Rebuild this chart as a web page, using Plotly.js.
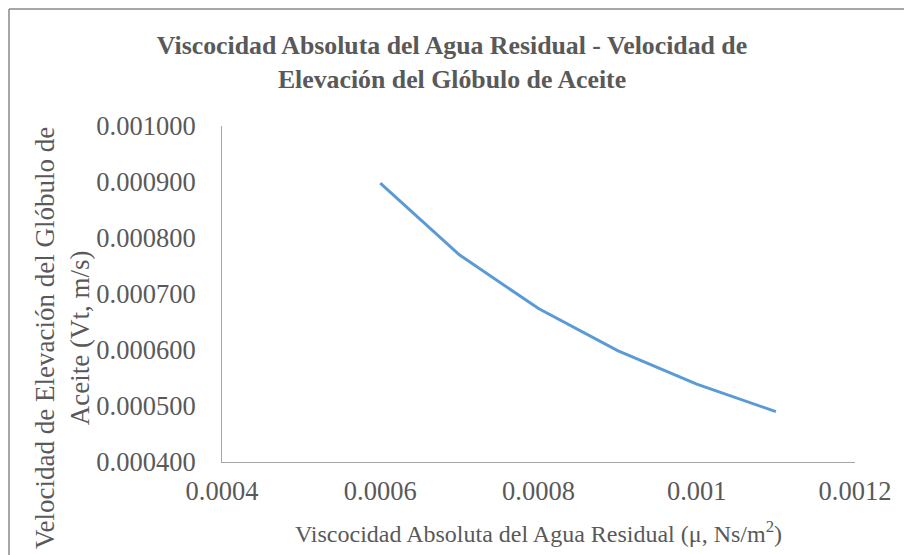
<!DOCTYPE html>
<html>
<head>
<meta charset="utf-8">
<script src="https://cdn.plot.ly/plotly-3.0.1.min.js"></script>
<style>html,body{margin:0;padding:0;background:#fff;}#chart{width:904px;height:555px;}</style>
</head>
<body>
<div id="chart"></div>
<script>
const viscosity = [0.0006, 0.0007, 0.0008, 0.0009, 0.0010, 0.0011];
const velocity = [0.000898, 0.000770, 0.000674, 0.000599, 0.000539, 0.000490];
const xTickVals = [0.0004, 0.0006, 0.0008, 0.0010, 0.0012];
const xTickText = ["0.0004", "0.0006", "0.0008", "0.001", "0.0012"];
const yTickVals = [0.0004, 0.0005, 0.0006, 0.0007, 0.0008, 0.0009, 0.0010];
const yTickText = ["0.000400", "0.000500", "0.000600", "0.000700", "0.000800", "0.000900", "0.001000"];
const yTitleText = "Velocidad de Elevación del Glóbulo de<br>Aceite (Vt, m/s)";

const font = "'Liberation Serif', 'Times New Roman', serif";
const grey = "#595959";

const trace = {
  x: viscosity, y: velocity, type: "scatter", mode: "lines",
  line: {color: "#5B9BD5", width: 3}, hoverinfo: "x+y"
};

const W = 633, H = 336, L = 222, T = 126;
const layout = {
  width: 904, height: 555,
  margin: {l: 222, r: 49, t: 126, b: 93},
  paper_bgcolor: "#fff", plot_bgcolor: "#fff",
  showlegend: false,
  font: {family: font, color: grey, size: 24},
  title: {
    text: "<b>Viscocidad Absoluta del Agua Residual - Velocidad de<br>Elevación del Glóbulo de Aceite</b>",
    font: {family: font, size: 25.8, color: grey},
    x: 0.5, xref: "container", xanchor: "center",
    y: 1 - 54/555, yref: "container", yanchor: "top"
  },
  xaxis: {
    range: [0.0004, 0.0012], tickvals: xTickVals, ticktext: xTickText,
    showgrid: false, zeroline: false, showline: true, linecolor: "#a6a6a6", linewidth: 1,
    ticks: "", tickfont: {family: font, size: 26.5, color: grey}, ticklabelstandoff: 5,
    title: {text: "Viscocidad Absoluta del Agua Residual (μ, Ns/m<sup>2</sup>)", font: {family: font, size: 24, color: grey}, standoff: 20}
  },
  yaxis: {
    range: [0.0004, 0.0010], tickvals: yTickVals, ticktext: yTickText,
    showgrid: false, zeroline: false, showline: true, linecolor: "#a6a6a6", linewidth: 1,
    ticks: "", tickfont: {family: font, size: 26.5, color: grey}, ticklabelstandoff: 20
  },
  annotations: [
    {text: yTitleText, xref: "paper", yref: "paper", x: (62 - L) / W, y: (T + H - 338) / H,
     xanchor: "center", yanchor: "middle", textangle: -90, showarrow: false,
     font: {family: font, size: 27, color: grey}, align: "center"}
  ],
  shapes: [
    {type: "line", xref: "paper", yref: "paper", x0: (9-L)/W, x1: (9-L)/W, y0: (T+H-560)/H, y1: (T+H-9)/H, line: {color: "#888", width: 1.5}},
    {type: "line", xref: "paper", yref: "paper", x0: (9-L)/W, x1: (910-L)/W, y0: (T+H-9)/H, y1: (T+H-9)/H, line: {color: "#888", width: 1.5}}
  ]
};

Plotly.newPlot("chart", [trace], layout, {displayModeBar: false, staticPlot: true});
</script>
</body>
</html>
